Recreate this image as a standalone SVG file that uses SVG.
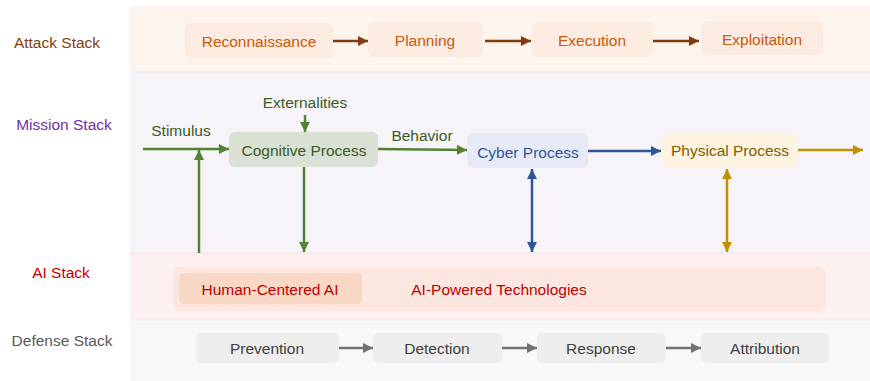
<svg xmlns="http://www.w3.org/2000/svg" width="870" height="381" viewBox="0 0 870 381">
<style>
text{font-family:"Liberation Sans",Arial,sans-serif;font-size:15.5px;text-anchor:middle;dominant-baseline:central}
.atk rect{fill:#FBEBE1}
.atk text{fill:#C55A11}
.def rect{fill:#EEEEEE}
.def text{fill:#404040}
.ln{fill:none;stroke-width:2.5}
</style>
<defs>
<marker id="mBr" markerUnits="userSpaceOnUse" markerWidth="12" markerHeight="12" refX="10" refY="5" orient="auto"><path d="M0,0 L10,5 L0,10 Z" fill="#843C0C"/></marker>
<marker id="mGn" markerUnits="userSpaceOnUse" markerWidth="12" markerHeight="12" refX="10" refY="5" orient="auto"><path d="M0,0 L10,5 L0,10 Z" fill="#548235"/></marker>
<marker id="mBl" markerUnits="userSpaceOnUse" markerWidth="12" markerHeight="12" refX="10" refY="5" orient="auto-start-reverse"><path d="M0,0 L10,5 L0,10 Z" fill="#2F5597"/></marker>
<marker id="mGd" markerUnits="userSpaceOnUse" markerWidth="12" markerHeight="12" refX="10" refY="5" orient="auto-start-reverse"><path d="M0,0 L10,5 L0,10 Z" fill="#BF9000"/></marker>
<marker id="mGy" markerUnits="userSpaceOnUse" markerWidth="12" markerHeight="12" refX="10" refY="5" orient="auto"><path d="M0,0 L10,5 L0,10 Z" fill="#767171"/></marker>
</defs>
<rect width="870" height="381" fill="#FFFFFF"/>
<g id="bands">
<rect x="130" y="6" width="740" height="66" fill="#FDF4EE"/>
<rect x="130" y="72" width="740" height="181" fill="#F6F4F9"/>
<rect x="130" y="253" width="740" height="67" fill="#FCF1F0"/>
<rect x="130" y="320" width="740" height="61" fill="#F8F8F8"/>
<line x1="130" y1="72" x2="870" y2="72" stroke="#F3E4DC" stroke-width="1"/>
<line x1="130" y1="253" x2="870" y2="253" stroke="#F1E3E6" stroke-width="1"/>
<line x1="130" y1="320" x2="870" y2="320" stroke="#F3E6E6" stroke-width="1"/>
</g>
<g id="stack-labels">
<text x="57" y="42" fill="#843C0C">Attack Stack</text>
<text x="64" y="124" fill="#7030A0">Mission Stack</text>
<text x="61" y="272" fill="#C00000">AI Stack</text>
<text x="62" y="340" fill="#595959">Defense Stack</text>
</g>
<g id="connectors">
<line class="ln" x1="333" y1="41" x2="368" y2="41" stroke="#843C0C" stroke-width="3" marker-end="url(#mBr)"/>
<line class="ln" x1="485" y1="41" x2="531" y2="41" stroke="#843C0C" stroke-width="3" marker-end="url(#mBr)"/>
<line class="ln" x1="653" y1="41" x2="699" y2="41" stroke="#843C0C" stroke-width="3" marker-end="url(#mBr)"/>
<line class="ln" x1="143" y1="149" x2="229" y2="149" stroke="#548235" marker-end="url(#mGn)"/>
<line class="ln" x1="305" y1="115" x2="305" y2="132" stroke="#548235" marker-end="url(#mGn)"/>
<line class="ln" x1="199" y1="253" x2="199" y2="150" stroke="#548235" marker-end="url(#mGn)"/>
<line class="ln" x1="304" y1="167" x2="304" y2="252" stroke="#548235" marker-end="url(#mGn)"/>
<line class="ln" x1="378" y1="149" x2="467" y2="150" stroke="#548235" marker-end="url(#mGn)"/>
<line class="ln" x1="588" y1="151" x2="661" y2="151" stroke="#2F5597" marker-end="url(#mBl)"/>
<line class="ln" x1="798" y1="150" x2="863" y2="150" stroke="#BF9000" marker-end="url(#mGd)"/>
<line class="ln" x1="532" y1="169" x2="532" y2="252" stroke="#2F5597" marker-start="url(#mBl)" marker-end="url(#mBl)"/>
<line class="ln" x1="727" y1="169" x2="727" y2="252" stroke="#BF9000" marker-start="url(#mGd)" marker-end="url(#mGd)"/>
<line class="ln" x1="339" y1="348" x2="373" y2="348" stroke="#767171" stroke-width="3" marker-end="url(#mGy)"/>
<line class="ln" x1="502" y1="348" x2="537" y2="348" stroke="#767171" stroke-width="3" marker-end="url(#mGy)"/>
<line class="ln" x1="666" y1="348" x2="701" y2="348" stroke="#767171" stroke-width="3" marker-end="url(#mGy)"/>
<text x="181" y="130" fill="#3A5A26">Stimulus</text>
<text x="305" y="102" fill="#3A5A26">Externalities</text>
<text x="422" y="135" fill="#3A5A26">Behavior</text>
</g>
<g id="reconnaissance" class="atk"><rect x="185" y="23" width="148" height="35" rx="6"/><text x="259" y="41">Reconnaissance</text></g>
<g id="planning" class="atk"><rect x="368" y="22" width="115" height="35" rx="6"/><text x="425" y="40">Planning</text></g>
<g id="execution" class="atk"><rect x="532" y="22" width="121" height="35" rx="6"/><text x="592" y="40">Execution</text></g>
<g id="exploitation" class="atk"><rect x="701" y="21" width="122" height="34" rx="6"/><text x="762" y="39">Exploitation</text></g>
<g id="cognitive"><rect x="229" y="132" width="149" height="35" rx="6" fill="#D9E1D4"/><text x="304" y="150" fill="#3A5A26">Cognitive Process</text></g>
<g id="cyber"><rect x="467" y="133" width="121" height="35" rx="6" fill="#E6E9F6"/><text x="528" y="152" fill="#2F5597">Cyber Process</text></g>
<g id="physical"><rect x="662" y="133" width="136" height="34" rx="6" fill="#FDF3E1"/><text x="730" y="150" fill="#7F6000">Physical Process</text></g>
<g id="ai-powered"><rect x="173" y="267" width="653" height="44" rx="7" fill="#FBE7DF"/><text x="499" y="289" fill="#C00000">AI-Powered Technologies</text></g>
<g id="human-centered"><rect x="179" y="273" width="183" height="31" rx="5" fill="#F8D7C4"/><text x="270" y="289" fill="#C00000">Human-Centered AI</text></g>
<g id="prevention" class="def"><rect x="196" y="333" width="143" height="30" rx="5"/><text x="267" y="348">Prevention</text></g>
<g id="detection" class="def"><rect x="373" y="333" width="129" height="30" rx="5"/><text x="437" y="348">Detection</text></g>
<g id="response" class="def"><rect x="537" y="333" width="129" height="30" rx="5"/><text x="601" y="348">Response</text></g>
<g id="attribution" class="def"><rect x="701" y="333" width="128" height="30" rx="5"/><text x="765" y="348">Attribution</text></g>
</svg>
